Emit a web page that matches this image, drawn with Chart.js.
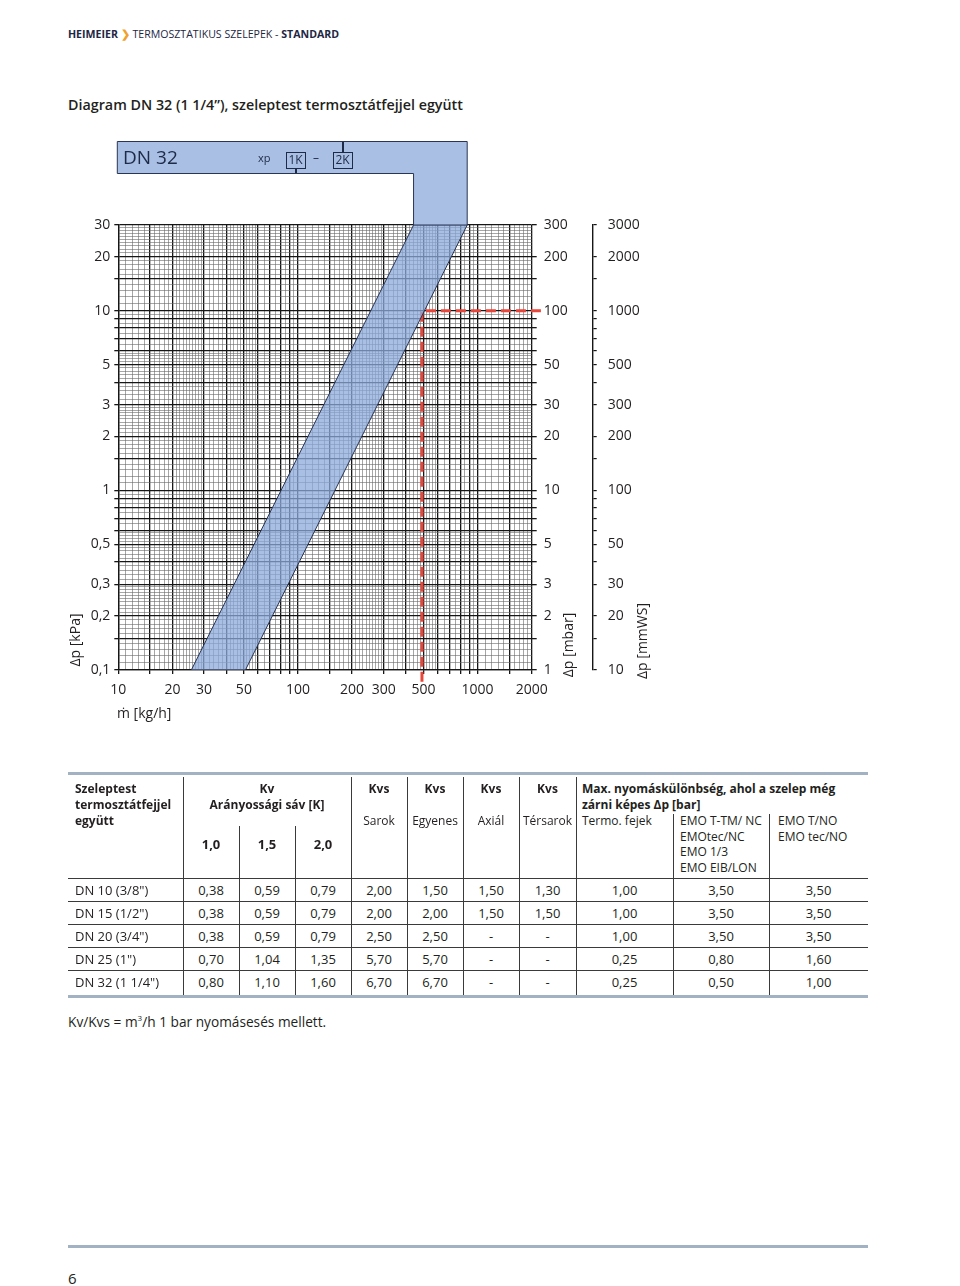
<!DOCTYPE html>
<html lang="hu">
<head>
<meta charset="UTF-8">
<title>Diagram DN 32</title>
<style>
    * { margin: 0; padding: 0; box-sizing: border-box; }
    body {
        width: 960px; height: 1286px; position: relative; overflow: hidden;
        background: #fff; color: #231f20;
        font-family: 'Open Sans', sans-serif;
    }
    .t { position: absolute; white-space: nowrap; line-height: 16px; font-size: 12px; }
    .d { font-size: 13px; }
    .b { font-weight: 700; }
    .c { text-align: center; }
    .line { position: absolute; background: #3a3a3a; }
    .rule { position: absolute; background: #a2b2c3; left: 68px; width: 800px; height: 3px; }
    #chartWrap { position: absolute; left: 0; top: 0; width: 960px; height: 760px; }
    .rot { position: absolute; white-space: nowrap; font-size: 14px; line-height: 18px;
           transform: translate(-50%, -50%) rotate(-90deg); }
    .kbox { position: absolute; border: 1.5px solid #1d2a48; font-size: 12px; line-height: 14px;
            text-align: center; color: #1d2a48; }
</style>
</head>
<body>
    <!-- page header -->
    <div class="t" style="left:68px; top:26px; font-size:10.6px; color:#1d2744;">
        <span class="b">HEIMEIER</span><span style="color:#f0a12c; font-weight:700;"> ❯ </span>TERMOSZTATIKUS SZELEPEK - <span class="b">STANDARD</span>
    </div>
    <div class="t" style="left:68px; top:95px; font-size:14.3px; line-height:20px; font-weight:600;">
        Diagram DN 32 (1 1/4”), szeleptest termosztátfejjel együtt
    </div>

    <div id="chartWrap"><canvas id="chart"></canvas></div>

    <!-- header box texts (drawn over the canvas) -->
    <div class="t" style="left:123px; top:145px; font-size:19px; line-height:24px; color:#1d2a48;">DN 32</div>
    <div class="t" style="left:258px; top:150px; font-size:11px; color:#1d2a48;">xp</div>
    <div class="kbox" style="left:285.5px; top:151.5px; width:20px; height:17px;">1K</div>
    <div class="line" style="left:295px; top:168px; width:1.5px; height:5px; background:#1d2a48;"></div>
    <div class="t" style="left:313px; top:150px; color:#1d2a48;">–</div>
    <div class="kbox" style="left:332.5px; top:151.5px; width:20px; height:17px;">2K</div>
    <div class="line" style="left:342px; top:142px; width:1.5px; height:10px; background:#1d2a48;"></div>

    <!-- axis titles -->
    <div class="rot" style="left:75px; top:640px;">Δp [kPa]</div>
    <div class="rot" style="left:568px; top:645px;">Δp [mbar]</div>
    <div class="rot" style="left:642px; top:641px;">Δp [mmWS]</div>
    <div class="t" style="left:117px; top:704px; font-size:14px; line-height:18px;">ṁ [kg/h]</div>

    <div id="table"></div>

    <div class="t" style="left:68px; top:1009px; font-size:13.7px; line-height:18px;">Kv/Kvs = m<sup style="font-size:8px;">3</sup>/h 1 bar nyomásesés mellett.</div>
    <div class="rule" style="top:1245px;"></div>
    <div class="t" style="left:68px; top:1268px; font-size:15px; line-height:20px;">6</div>

    <script src="https://cdn.jsdelivr.net/npm/chart.js"></script>
    <script>
        // axis labels
        const flowLabels = [10, 20, 30, 50, 100, 200, 300, 500, 1000, 2000];
        const kpaLabels = [0.1, 0.2, 0.3, 0.5, 1, 2, 3, 5, 10, 20, 30];
        const mbarLabels = [1, 2, 3, 5, 10, 20, 30, 50, 100, 200, 300];
        const mmwsLabels = [10, 20, 30, 50, 100, 200, 300, 500, 1000, 2000, 3000];
        const mmwsTicks = [10, 15, 20, 30, 40, 50, 60, 70, 80, 90, 100, 150, 200, 300, 400, 500,
                           600, 700, 800, 900, 1000, 1500, 2000, 3000];

        // band edges [kg/h, kPa]: Kv 0,80 (1K) and Kv 1,60 (2K)
        const band1K = [[25.5, 0.1], [440, 30]];
        const band2K = [[51, 0.1], [875, 30]];
        // example reading (red dashed)
        const designFlow = 490;
        const designDp = 10;

        // grid mantissas
        const majorMant = [1, 1.5, 2, 3, 4, 5, 6, 7, 8, 9];
        const minorMant = [1.1, 1.2, 1.3, 1.4, 1.6, 1.7, 1.8, 1.9,
                           2.1, 2.2, 2.3, 2.4, 2.5, 2.6, 2.7, 2.8, 2.9,
                           3.2, 3.4, 3.6, 3.8, 4.2, 4.4, 4.6, 4.8,
                           5.2, 5.4, 5.6, 5.8, 6.5, 7.5, 8.5, 9.5];

        function gridValues(min, max, mants) {
            const out = [];
            for (let e = -2; e <= 4; e++) {
                for (const m of mants) {
                    const v = +(m * Math.pow(10, e)).toPrecision(6);
                    if (v >= min - 1e-9 && v <= max + 1e-9) out.push(v);
                }
            }
            return out.sort((a, b) => a - b);
        }
        function isMajor(v) {
            const m = Math.round(v / Math.pow(10, Math.floor(Math.log10(v) + 1e-9)) * 100) / 100;
            return majorMant.includes(m);
        }
        const fmt = v => String(v).replace('.', ',');

        const xGrid = gridValues(10, 2000, majorMant.concat(minorMant));
        const yGrid = gridValues(0.1, 30, majorMant.concat(minorMant));
        const mbarTicks = gridValues(1, 300, majorMant);

        const FONT = { family: "'Open Sans', sans-serif", size: 14 };
        const INK = '#231f20';

        const gridStyle = {
            color: ctx => (ctx.tick && isMajor(ctx.tick.value)) ? '#161616' : '#6a6a6a',
            lineWidth: ctx => (ctx.tick && isMajor(ctx.tick.value)) ? 1.3 : 0.6,
            tickColor: ctx => (ctx.tick && isMajor(ctx.tick.value)) ? '#161616' : 'rgba(0,0,0,0)',
            tickLength: 4,
            drawTicks: true
        };

        // blue header box with the band running into it
        const headerBox = {
            id: 'headerBox',
            beforeDatasetsDraw(chart) {
                const xs = chart.scales.x;
                const a = chart.chartArea;
                const xl = xs.getPixelForValue(band1K[1][0]);
                const xr = xs.getPixelForValue(band2K[1][0]);
                const left = a.left - 1, top = 141.5, bottom = 173.5;
                const c = chart.ctx;
                c.save();
                c.beginPath();
                c.moveTo(left, top);
                c.lineTo(xr, top);
                c.lineTo(xr, a.top);
                c.lineTo(xl, a.top);
                c.lineTo(xl, bottom);
                c.lineTo(left, bottom);
                c.closePath();
                c.fillStyle = '#a9bfe4';
                c.fill();
                c.lineWidth = 1;
                c.strokeStyle = '#2a3553';
                c.stroke();
                c.restore();
            }
        };

        const bandPoints = band1K.concat(band2K.slice().reverse(), [band1K[0]])
            .map(p => ({ x: p[0], y: p[1] }));

        new Chart(document.getElementById('chart'), {
            type: 'line',
            data: {
                datasets: [{
                    data: bandPoints,
                    fill: 'shape',
                    backgroundColor: 'rgba(140,170,219,0.75)',
                    borderColor: '#2a3553',
                    borderWidth: 1,
                    pointRadius: 0,
                    tension: 0
                }, {
                    data: [{ x: designFlow, y: 0.086 }, { x: designFlow, y: designDp }, { x: 2330, y: designDp }],
                    fill: false,
                    borderColor: '#e8463b',
                    borderWidth: 3,
                    borderDash: [10, 5],
                    pointRadius: 0,
                    clip: { left: 0, top: 0, right: 16, bottom: 14 }
                }]
            },
            options: {
                responsive: true,
                maintainAspectRatio: false,
                animation: false,
                layout: { padding: { left: 0, top: 225, right: 267.3, bottom: 50 } },
                plugins: { legend: { display: false }, tooltip: { enabled: false } },
                scales: {
                    x: {
                        type: 'logarithmic', position: 'bottom', min: 10, max: 2000,
                        afterBuildTicks: s => { s.ticks = xGrid.map(v => ({ value: v })); },
                        afterFit: s => { s.height = 40; },
                        ticks: {
                            autoSkip: false, maxRotation: 0, minRotation: 0, padding: 8,
                            font: FONT, color: INK,
                            callback: v => flowLabels.includes(v) ? String(v) : ''
                        },
                        grid: gridStyle,
                        border: { display: true, color: '#161616', width: 1.3 }
                    },
                    y: {
                        type: 'logarithmic', position: 'left', min: 0.1, max: 30,
                        afterBuildTicks: s => { s.ticks = yGrid.map(v => ({ value: v })); },
                        afterFit: s => { s.width = 118.3; },
                        ticks: {
                            autoSkip: false, padding: 4, font: FONT, color: INK,
                            callback: v => kpaLabels.includes(v) ? fmt(v) : ''
                        },
                        grid: gridStyle,
                        border: { display: true, color: '#161616', width: 1.3 }
                    },
                    yMbar: {
                        type: 'logarithmic', position: 'right', weight: 0, min: 1, max: 300,
                        afterBuildTicks: s => { s.ticks = mbarTicks.map(v => ({ value: v })); },
                        afterFit: s => { s.width = 61; },
                        ticks: {
                            autoSkip: false, padding: 7, font: FONT, color: INK,
                            callback: v => mbarLabels.includes(v) ? String(v) : ''
                        },
                        grid: { drawOnChartArea: false, tickLength: 5, tickColor: '#161616', lineWidth: 1.3 },
                        border: { display: false }
                    },
                    yMm: {
                        type: 'logarithmic', position: 'right', weight: 1, min: 10, max: 3000,
                        afterBuildTicks: s => { s.ticks = mmwsTicks.map(v => ({ value: v })); },
                        afterFit: s => { s.width = 100; },
                        ticks: {
                            autoSkip: false, padding: 11, font: FONT, color: INK,
                            callback: v => mmwsLabels.includes(v) ? String(v) : ''
                        },
                        grid: { drawOnChartArea: false, tickLength: 4, tickColor: '#161616', lineWidth: 1.2 },
                        border: { display: true, color: '#161616', width: 1.4 }
                    }
                }
            },
            plugins: [headerBox]
        });

        // ---- table below the chart ----
        const colEdges = [68, 183, 239, 295, 351, 407, 463, 519, 576, 673, 769, 868];
        const tableRows = [
            ['DN 10 (3/8")', '0,38', '0,59', '0,79', '2,00', '1,50', '1,50', '1,30', '1,00', '3,50', '3,50'],
            ['DN 15 (1/2")', '0,38', '0,59', '0,79', '2,00', '2,00', '1,50', '1,50', '1,00', '3,50', '3,50'],
            ['DN 20 (3/4")', '0,38', '0,59', '0,79', '2,50', '2,50', '-', '-', '1,00', '3,50', '3,50'],
            ['DN 25 (1")', '0,70', '1,04', '1,35', '5,70', '5,70', '-', '-', '0,25', '0,80', '1,60'],
            ['DN 32 (1 1/4")', '0,80', '1,10', '1,60', '6,70', '6,70', '-', '-', '0,25', '0,50', '1,00']
        ];
        const rowCenters = [890, 913, 936, 959, 982];

        let html = '';
        const text = (s, x, yc, cls, w) => {
            const style = `top:${yc - 8}px;` + (w ? `left:${x}px;width:${w}px;` : `left:${x}px;`);
            html += `<div class="t ${cls || ''}" style="${style}">${s}</div>`;
        };
        const centered = (s, c, yc, cls) => text(s, colEdges[c], yc, 'c ' + (cls || ''), colEdges[c + 1] - colEdges[c]);
        const vline = (x, y0, y1) => { html += `<div class="line" style="left:${x}px;top:${y0}px;width:1px;height:${y1 - y0}px;"></div>`; };
        const hline = y => { html += `<div class="line" style="left:68px;top:${y}px;width:800px;height:1px;"></div>`; };

        html += '<div class="rule" style="top:772px;"></div>';
        html += '<div class="rule" style="top:995px;"></div>';
        [878, 901, 924, 947, 970].forEach(hline);
        [183, 351, 407, 463, 519, 576].forEach(x => vline(x, 777, 995));
        [239, 295].forEach(x => vline(x, 826, 995));
        [673, 769].forEach(x => vline(x, 814, 995));

        text('Szeleptest', 75, 789, 'b');
        text('termosztátfejjel', 75, 805, 'b');
        text('együtt', 75, 821, 'b');
        text('Kv', 183, 789, 'b c', 168);
        text('Arányossági sáv [K]', 183, 805, 'b c', 168);
        ['1,0', '1,5', '2,0'].forEach((s, i) => centered(s, i + 1, 844, 'b d'));
        ['Sarok', 'Egyenes', 'Axiál', 'Térsarok'].forEach((s, i) => {
            centered('Kvs', i + 4, 789, 'b');
            centered(s, i + 4, 821);
        });
        text('Max. nyomáskülönbség, ahol a szelep még', 582, 789, 'b');
        text('zárni képes Δp [bar]', 582, 805, 'b');
        text('Termo. fejek', 582, 821);
        ['EMO T-TM/ NC', 'EMOtec/NC', 'EMO 1/3', 'EMO EIB/LON'].forEach((s, i) => text(s, 680, [821, 837, 852, 868][i]));
        ['EMO T/NO', 'EMO tec/NO'].forEach((s, i) => text(s, 778, [821, 837][i]));

        tableRows.forEach((row, r) => {
            row.forEach((s, c) => {
                if (c === 0) text(s, 75, rowCenters[r], 'd');
                else centered(s, c, rowCenters[r], 'd');
            });
        });
        document.getElementById('table').innerHTML = html;
    </script>
</body>
</html>
